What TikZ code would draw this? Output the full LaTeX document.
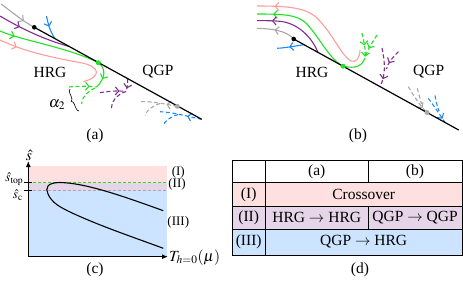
\documentclass[tikz,border=0pt]{standalone}
\usepackage{mathptmx}
\usepackage{fontspec}
\setmainfont{Liberation Serif}
\usetikzlibrary{arrows.meta,decorations.markings,decorations.pathreplacing}
\definecolor{cpink}{HTML}{FF9C9C}
\definecolor{cgreen}{HTML}{22E022}
\definecolor{cpurple}{HTML}{7E2F8E}
\definecolor{cgray}{HTML}{A8A8A8}
\definecolor{cblue}{HTML}{1E88FF}
\definecolor{rpink}{HTML}{FFE0E0}
\definecolor{rpurple}{HTML}{E6D4E8}
\definecolor{rblue}{HTML}{CCE4FF}
\tikzset{
 flow/.style={line width=1.1pt},
 dflow/.style={line width=1.1pt, dash pattern=on 4pt off 2.5pt},
 marr/.style={postaction={decorate,decoration={markings,mark=at position #1 with {\arrow{Straight Barb[length=3.5pt,width=8pt]}}}}},
 lbl/.style={font=\fontsize{15.5}{18}\selectfont, inner sep=0pt},
 slbl/.style={font=\fontsize{13}{15}\selectfont, inner sep=0pt},
 bline/.style={line width=1.2pt},
 grid/.style={line width=0.9pt},
}
\begin{document}
\begin{tikzpicture}[x=1pt,y=-1pt]
\useasboundingbox (0,0) rectangle (463,281);
% ---------------- panel (a)
\coordinate (ka) at (34.3,27.3);
\coordinate (ea) at (201.7,119.3);
\coordinate (ga) at (98.3,62.7);
\coordinate (gya) at (177.3,106.3);
\draw[flow,cpink,marr=0.15] (0,40) .. controls (25,52) and (55,58) .. (82,63) .. controls (100,66.5) and (102,77) .. (83,81.7);
\draw[flow,cgray,marr=0.7] (1,4) .. controls (12,12) and (24,22) .. (ka);
\draw[flow,cblue,marr=0.45] (46.5,16) .. controls (48,24) and (50,31) .. (55,38.7);
\draw[flow,cpurple,marr=0.3] (0,16) .. controls (20,28) and (45,40) .. (69,46.4);
\draw[flow,cgreen,marr=0.15] (0,31) .. controls (20,40) and (70,48) .. (ga);
\draw[flow,cgreen,marr=0.65] (ga) .. controls (106,68) and (106,78) .. (96.5,87);
\draw[dflow,cgreen,marr=0.75] (69,87) .. controls (78,86) and (88,86) .. (96.5,87);
\draw[dflow,cgreen] (95,88) .. controls (87,92) and (82,97) .. (81.5,104);
\draw[dflow,cpurple,marr=0.75] (100,92.7) .. controls (110,91) and (118,90.5) .. (126,91.5);
\draw[dflow,cpurple,marr=0.75] (127.5,78.8) .. controls (128,84) and (127,88) .. (126,91.5);
\draw[dflow,cpurple] (126,91.5) .. controls (116,95) and (111,102) .. (111.5,110);
\draw[dflow,cgray,marr=0.3] (gya) .. controls (165,104) and (150,101) .. (141,101.7);
\draw[dflow,cgray] (160,103.5) .. controls (152,106) and (147,110) .. (145,115.5);
\draw[dflow,cblue,marr=0.35] (ea) .. controls (190,117) and (172,112) .. (160,111.7);
\draw[dflow,cblue] (178,114.5) .. controls (170,117) and (165,121) .. (163,125.5);
\draw[bline] (ka) -- (ea);
\fill (ka) circle[radius=2.3pt];
\fill[cgreen] (ga) circle[radius=2.5pt];
\fill[cgray] (gya) circle[radius=2.5pt];
\node[lbl] (hrga) at (50,72) {HRG};
\node[lbl] (qgpa) at (158,72) {QGP};
\node[lbl] (alpha) at (57,105) {$\alpha_2$};
\draw[line width=0.6pt,decorate,decoration={brace,amplitude=3.5pt}] (79,111) -- (70,89);
\node[lbl] (capa) at (95,135.5) {(a)};
% ---------------- panel (b)
\coordinate (kb) at (293.7,39);
\coordinate (eb) at (458.7,130);
\coordinate (gb) at (343,66.2);
\coordinate (gyb) at (427,112.5);
\draw[flow,cpink,marr=0.87] (360,50) .. controls (360,58) and (356,63) .. (351,61) .. controls (342,57) and (332,32) .. (316,17) .. controls (305,8) and (290,6) .. (257,6);
\draw[flow,cgreen,marr=0.88] (365,58) .. controls (362,66) and (356,69) .. (gb) .. controls (330,60) and (320,38) .. (306,23) .. controls (297,15) and (285,14) .. (257,14);
\draw[dflow,cgreen,marr=0.5,marr=0.95] (362,33) .. controls (364,42) and (366,50) .. (365,58);
\draw[dflow,cgreen,marr=0.6] (377,35) .. controls (372,43) and (367,50) .. (365,58);
\draw[flow,cpurple,marr=0.8] (318,52.4) .. controls (312,38) and (300,25) .. (283,21.7) .. controls (275,20.5) and (265,20.7) .. (257,20.7);
\draw[dflow,cpurple,marr=0.8] (382,48) .. controls (385,62) and (386,75) .. (380,86.6);
\draw[dflow,cpurple,marr=0.7] (398.5,51.7) .. controls (392,58) and (388,63) .. (386.5,69);
\draw[flow,cgray,marr=0.55] (kb) .. controls (288,33) and (280,29) .. (257,28.3);
\draw[dflow,cgray,marr=0.8] (408.3,86.7) .. controls (414,96) and (420,106) .. (gyb);
\draw[dflow,cgray] (417.3,88.3) .. controls (419,94) and (420,99) .. (421.5,104);
\draw[flow,cblue,marr=0.55] (304,44.7) .. controls (295,46) and (285,48) .. (277,48.3);
\draw[dflow,cblue,marr=0.85] (428.3,98.3) .. controls (434,106) and (440,115) .. (445,122.4);
\draw[dflow,cblue] (435,95.5) .. controls (436,101) and (437,106) .. (439,111);
\draw[bline] (kb) -- (eb);
\fill (kb) circle[radius=2.3pt];
\fill[cgreen] (gb) circle[radius=2.5pt];
\fill[cgray] (gyb) circle[radius=2.5pt];
\node[lbl] (hrgb) at (312,72) {HRG};
\node[lbl] (qgpb) at (428.7,72) {QGP};
\node[lbl] (capb) at (358,135.5) {(b)};
% ---------------- panel (c)
\fill[rpink] (28.3,166) rectangle (166.7,182.7);
\fill[rpurple] (28.3,182.7) rectangle (166.7,190.7);
\fill[rblue] (28.3,190.7) rectangle (166.7,256.7);
\draw[cgreen,line width=1.1pt,dash pattern=on 3pt off 2pt] (28.3,182.7) -- (166.7,182.7);
\draw[cgray,line width=1.1pt,dash pattern=on 3pt off 2pt] (28.3,190.7) -- (166.7,190.7);
\coordinate (org) at (28.3,256.7);
\coordinate (ytop) at (28.3,161);
\coordinate (xend) at (168,256.7);
\draw[line width=1.3pt,-{Latex[length=6pt,width=5pt]}] (org) -- (ytop);
\draw[line width=1.3pt,-{Latex[length=6pt,width=5pt]}] (org) -- (xend);
\draw[line width=1.3pt] (23.5,182.7) -- (32,182.7);
\draw[line width=1.3pt] (23.5,190.7) -- (32,190.7);
\draw[line width=1.1pt] (163.3,210.7) .. controls (120,195) and (85,183) .. (60,182.5) .. controls (47,182.5) and (45,188) .. (48,194) .. controls (52,203) and (60,207) .. (70,212) .. controls (100,226) and (130,236) .. (163.3,248.3);
\node[lbl,anchor=south] (shat) at (29,161) {$\hat{s}$};
\node[slbl,anchor=east] (stop) at (23.5,179.5) {$\hat{s}_{\mathrm{top}}$};
\node[slbl,anchor=east] (sc) at (23,195) {$\hat{s}_{\mathrm{c}}$};
\node[lbl,anchor=west] (tlab) at (169,257.5) {$T_{h=0}(\mu)$};
\node[slbl] (r1) at (178.3,172) {(I)};
\node[slbl] (r2) at (177,184.5) {(II)};
\node[slbl] (r3) at (178.3,222.7) {(III)};
\node[lbl] (capc) at (95,270) {(c)};
% ---------------- panel (d)
\fill[rpink] (232,182.7) rectangle (462,206);
\fill[rpurple] (232,206) rectangle (462,229.3);
\fill[rblue] (232,229.3) rectangle (462,255);
\draw[grid] (232,160.7) rectangle (462,255);
\draw[grid] (232,182.7) -- (462,182.7);
\draw[grid] (232,206) -- (462,206);
\draw[grid] (232,229.3) -- (462,229.3);
\draw[grid] (265.3,160.7) -- (265.3,255);
\draw[grid] (368,160.7) -- (368,182.7);
\draw[grid] (368,206) -- (368,229.3);
\node[lbl] (ha) at (316.7,171.7) {(a)};
\node[lbl] (hb) at (415,171.7) {(b)};
\node[lbl] (t1) at (248.7,194.3) {(I)};
\node[lbl] (t2) at (248.7,217.6) {(II)};
\node[lbl] (t3) at (248.7,242.1) {(III)};
\node[lbl] (cross) at (363.7,194.3) {Crossover};
\node[lbl] (hh) at (316.7,217.6) {HRG $\rightarrow$ HRG};
\node[lbl] (qq) at (415,217.6) {QGP $\rightarrow$ QGP};
\node[lbl] (qh) at (363.7,242.1) {QGP $\rightarrow$ HRG};
\node[lbl] (capd) at (360,270) {(d)};
\end{tikzpicture}
\end{document}
